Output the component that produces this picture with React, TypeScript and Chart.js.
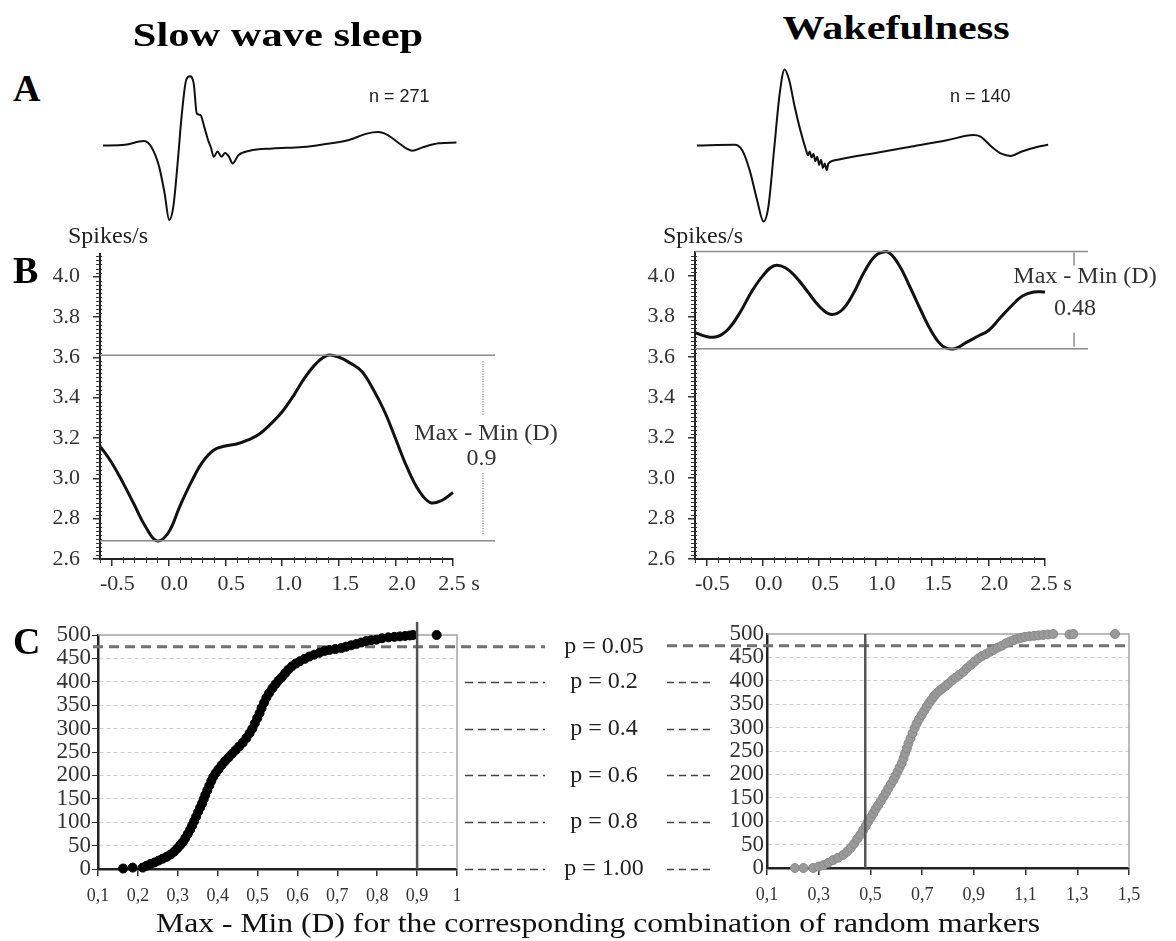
import React, { useEffect, useRef } from 'react';
import { Chart, registerables } from 'chart.js';

Chart.register(...registerables);

const SERIF = "'Liberation Serif', 'Times New Roman', Times, serif";
const SANS = "'Liberation Sans', Arial, Helvetica, sans-serif";

// ---------------- Panel A : averaged spike waveforms (time in ms, normalised amplitude)
const swsWaveTime = [0.000, 0.186, 0.346, 0.410, 0.475, 0.522, 0.561, 0.596, 0.635, 0.666, 0.705, 0.737, 0.769, 0.795, 0.826, 0.858, 0.891, 0.913, 0.939, 0.971, 1.003, 1.035, 1.067, 1.099, 1.147, 1.243, 1.436, 1.692, 1.884, 2.076, 2.236, 2.332, 2.413, 2.492, 2.573, 2.620, 2.717, 2.845, 2.995];
const swsWaveAmp = [0.00, 0.01, 0.06, -0.02, -0.28, -0.64, -1.00, -0.82, -0.19, 0.39, 0.88, 0.93, 0.83, 0.43, 0.41, 0.25, 0.07, -0.02, -0.15, -0.08, -0.15, -0.10, -0.15, -0.24, -0.13, -0.07, -0.04, -0.02, 0.02, 0.07, 0.16, 0.18, 0.14, 0.05, -0.04, -0.07, -0.02, 0.03, 0.04];
const wakeWaveTime = [0.000, 0.319, 0.382, 0.446, 0.509, 0.564, 0.605, 0.653, 0.701, 0.742, 0.781, 0.828, 0.875, 0.924, 0.940, 0.955, 0.971, 0.987, 1.003, 1.019, 1.035, 1.051, 1.067, 1.083, 1.099, 1.114, 1.194, 1.321, 1.513, 1.799, 2.117, 2.340, 2.403, 2.499, 2.579, 2.658, 2.753, 2.881, 2.976];
const wakeWaveAmp = [0.00, 0.01, -0.06, -0.33, -0.73, -1.02, -0.82, -0.06, 0.70, 1.02, 0.88, 0.52, 0.21, -0.06, -0.13, -0.08, -0.16, -0.11, -0.21, -0.15, -0.26, -0.19, -0.30, -0.24, -0.33, -0.24, -0.19, -0.15, -0.10, -0.02, 0.07, 0.14, 0.12, -0.02, -0.11, -0.14, -0.08, -0.02, 0.01];
const swsSpikeCount = 'n = 271';
const wakeSpikeCount = 'n = 140';

// ---------------- Panel B : firing rate (spikes/s) around the markers
const rateTime = [-0.6, -0.5, -0.4, -0.3, -0.2, -0.1, 0.0, 0.1, 0.2, 0.3, 0.4, 0.5, 0.6, 0.7, 0.8, 0.9, 1.0, 1.1, 1.2, 1.3, 1.4, 1.5, 1.6, 1.7, 1.8, 1.9, 2.0, 2.1, 2.2, 2.3, 2.4, 2.5];
const swsRate = [3.16, 3.08, 2.98, 2.87, 2.76, 2.69, 2.73, 2.86, 2.98, 3.08, 3.14, 3.16, 3.17, 3.19, 3.22, 3.27, 3.33, 3.41, 3.50, 3.57, 3.61, 3.60, 3.57, 3.53, 3.44, 3.33, 3.19, 3.05, 2.94, 2.88, 2.89, 2.93];
const wakeRate = [3.72, 3.70, 3.70, 3.74, 3.82, 3.92, 4.00, 4.05, 4.04, 3.99, 3.92, 3.85, 3.81, 3.83, 3.91, 4.02, 4.10, 4.12, 4.06, 3.95, 3.83, 3.72, 3.65, 3.64, 3.67, 3.70, 3.73, 3.79, 3.85, 3.90, 3.92, 3.92];
const swsDText = '0.9';
const wakeDText = '0.48';

// ---------------- Panel C : cumulative ranks of D for random marker combinations
const swsShuffleD = [0.163, 0.187, 0.212, 0.222, 0.232, 0.242, 0.252, 0.262, 0.272, 0.282, 0.291, 0.299, 0.306, 0.313, 0.319, 0.325, 0.331, 0.336, 0.341, 0.346, 0.351, 0.356, 0.361, 0.365, 0.369, 0.374, 0.379, 0.384, 0.389, 0.395, 0.402, 0.410, 0.418, 0.427, 0.436, 0.445, 0.454, 0.463, 0.472, 0.480, 0.487, 0.493, 0.499, 0.505, 0.510, 0.516, 0.522, 0.529, 0.537, 0.545, 0.553, 0.561, 0.569, 0.577, 0.586, 0.596, 0.606, 0.618, 0.630, 0.642, 0.655, 0.668, 0.680, 0.695, 0.710, 0.722, 0.735, 0.748, 0.760, 0.772, 0.785, 0.798, 0.812, 0.828, 0.843, 0.857, 0.870, 0.882, 0.890, 0.949];
const swsShuffleRank = [1, 3, 3, 7, 11, 14, 18, 22, 26, 31, 37, 44, 51, 58, 66, 75, 84, 93, 102, 112, 122, 131, 140, 149, 158, 168, 178, 188, 197, 205, 213, 222, 230, 238, 246, 254, 262, 270, 280, 290, 300, 311, 322, 333, 344, 355, 366, 376, 386, 395, 403, 410, 418, 426, 433, 439, 444, 449, 454, 458, 462, 466, 468, 470, 472, 475, 478, 481, 484, 487, 489, 490, 493, 495, 496, 497, 498, 499, 500, 500];
const wakeShuffleD = [0.208, 0.241, 0.279, 0.300, 0.318, 0.337, 0.356, 0.375, 0.395, 0.410, 0.424, 0.437, 0.449, 0.461, 0.472, 0.482, 0.491, 0.501, 0.511, 0.520, 0.530, 0.540, 0.550, 0.560, 0.569, 0.579, 0.589, 0.597, 0.605, 0.613, 0.621, 0.628, 0.634, 0.641, 0.647, 0.655, 0.663, 0.671, 0.679, 0.688, 0.698, 0.708, 0.718, 0.727, 0.737, 0.746, 0.756, 0.768, 0.779, 0.791, 0.802, 0.816, 0.830, 0.844, 0.859, 0.873, 0.888, 0.903, 0.918, 0.932, 0.947, 0.962, 0.976, 0.992, 1.008, 1.024, 1.040, 1.055, 1.070, 1.084, 1.098, 1.115, 1.133, 1.150, 1.168, 1.187, 1.207, 1.270, 1.285, 1.446];
const wakeShuffleRank = [0, 0, 0, 3, 6, 11, 17, 22, 28, 35, 43, 52, 62, 71, 81, 90, 99, 108, 117, 126, 134, 143, 152, 161, 170, 179, 188, 197, 206, 215, 224, 234, 245, 256, 266, 277, 288, 299, 309, 318, 327, 336, 345, 353, 360, 367, 373, 379, 384, 389, 394, 401, 407, 413, 419, 427, 434, 441, 448, 453, 457, 462, 466, 471, 475, 480, 484, 487, 490, 492, 494, 495, 496, 497, 498, 499, 500, 499, 500, 500];
const swsObservedD = 0.9;
const wakeObservedD = 0.48;
const pRanks = [475, 400, 300, 200, 100, 0];
const pLabels = ['p = 0.05', 'p = 0.2', 'p = 0.4', 'p = 0.6', 'p = 0.8', 'p = 1.00'];

const commaFmt = (v: number) => {
  const r = Math.round(v * 10) / 10;
  return Number.isInteger(r) ? String(r) : r.toFixed(1).replace('.', ',');
};

// ---------------- configs
function waveConfig(t: number[], a: number[]) {
  return {
    type: 'line',
    data: {
      datasets: [{
        data: t.map((x, i) => ({ x, y: a[i] })),
        borderColor: '#111', borderWidth: 2, pointRadius: 0,
        cubicInterpolationMode: 'monotone', clip: false,
      }],
    },
    options: {
      animation: false, responsive: false, devicePixelRatio: 1, events: [],
      layout: { padding: 4 },
      plugins: { legend: { display: false }, tooltip: { enabled: false } },
      scales: {
        x: { type: 'linear', display: false, min: 0, max: 3.0 },
        y: { type: 'linear', display: false, min: -1.201, max: 1.215 },
      },
    },
  };
}

type Seg = [number, number];
type AnnotOpts = {
  markerDx: number; lineExt: number; dash: number[]; markerColor: string; markerWidth: number;
  segs: (yMax: number, yMin: number) => Seg[];
  texts: { s: string; dx: number; y: (yMax: number, yMin: number) => number }[];
};

function rateAnnot(o: AnnotOpts) {
  return {
    id: 'rateAnnot',
    afterDatasetsDraw(chart: any) {
      const { ctx, chartArea: ca, scales } = chart;
      const x = scales.x, y = scales.y;
      const vals = chart.data.datasets[0].data.map((p: any) => p.y);
      const yMax = y.getPixelForValue(Math.max(...vals));
      const yMin = y.getPixelForValue(Math.min(...vals));
      ctx.save();
      // minor ticks
      ctx.strokeStyle = '#333';
      ctx.lineWidth = 1;
      ctx.beginPath();
      const ny = Math.round((4.1 - y.min) / 0.02);
      for (let i = 0; i <= ny; i++) {
        if (i % 10 === 0) continue;
        const py = Math.round(y.getPixelForValue(y.min + i * 0.02)) + 0.5;
        ctx.moveTo(ca.left - 4, py);
        ctx.lineTo(ca.left + 2, py);
      }
      const nx = Math.round((x.max - x.min) / 0.1);
      for (let i = 0; i <= nx; i++) {
        if (i % 5 === 1) continue;
        const px = Math.round(x.getPixelForValue(x.min + i * 0.1)) + 0.5;
        ctx.moveTo(px, ca.bottom - 2);
        ctx.lineTo(px, ca.bottom + 4);
      }
      ctx.stroke();
      // max / min lines
      ctx.strokeStyle = '#8a8a8a';
      ctx.lineWidth = 1.5;
      ctx.beginPath();
      ctx.moveTo(ca.left, yMax); ctx.lineTo(ca.right + o.lineExt, yMax);
      ctx.moveTo(ca.left, yMin); ctx.lineTo(ca.right + o.lineExt, yMin);
      ctx.stroke();
      // D marker
      const mx = ca.right + o.markerDx;
      ctx.strokeStyle = o.markerColor;
      ctx.lineWidth = o.markerWidth;
      ctx.setLineDash(o.dash);
      ctx.beginPath();
      o.segs(yMax, yMin).forEach(([a, b]) => { ctx.moveTo(mx, a); ctx.lineTo(mx, b); });
      ctx.stroke();
      ctx.setLineDash([]);
      // labels
      ctx.fillStyle = '#333';
      ctx.font = `24px ${SERIF}`;
      ctx.textAlign = 'center';
      ctx.textBaseline = 'middle';
      o.texts.forEach((t) => ctx.fillText(t.s, ca.right + t.dx, t.y(yMax, yMin)));
      ctx.restore();
    },
  };
}

function rateConfig(rate: number[], yMax: number, padRight: number, annot: AnnotOpts) {
  return {
    type: 'line',
    data: {
      datasets: [{
        data: rateTime.map((x, i) => ({ x, y: rate[i] })),
        borderColor: '#111', borderWidth: 3, pointRadius: 0,
        tension: 0.4, clip: false,
      }],
    },
    options: {
      animation: false, responsive: false, devicePixelRatio: 1, events: [],
      layout: { padding: { left: 0, top: 10, right: padRight, bottom: 0 } },
      plugins: { legend: { display: false }, tooltip: { enabled: false } },
      scales: {
        x: {
          type: 'linear', min: -0.6, max: 2.5,
          ticks: {
            stepSize: 0.5, includeBounds: false, autoSkip: false, maxRotation: 0, minRotation: 0,
            padding: 5, labelOffset: 6, color: '#333', font: { family: SERIF, size: 22 },
            callback: (v: number) => (Math.abs(v - 2.5) < 1e-9 ? '2.5 s' : Number(v).toFixed(1)),
          },
          grid: { drawOnChartArea: false, tickLength: 7, color: '#333', lineWidth: 1.5 },
          border: { color: '#222', width: 2 },
          afterFit: (s: any) => { s.height = 51; s.paddingLeft = 0; s.paddingRight = 0; },
        },
        y: {
          type: 'linear', min: 2.6, max: yMax,
          ticks: {
            stepSize: 0.2, includeBounds: false, autoSkip: false, padding: 13,
            color: '#333', font: { family: SERIF, size: 22 },
            callback: (v: number) => Number(v).toFixed(1),
          },
          grid: { drawOnChartArea: false, tickLength: 7, color: '#333', lineWidth: 1.5 },
          border: { color: '#222', width: 2 },
          afterFit: (s: any) => { s.width = 70; s.paddingTop = 0; s.paddingBottom = 0; },
        },
      },
    },
    plugins: [rateAnnot(annot)],
  };
}

type CdfOpts = {
  xMax: number; xStep: number; color: string; border: string; padTop: number; padRight: number;
  yWidth: number; xHeight: number; yPad: number; yTicks: boolean;
  observed: number; obsOver: number; lineFrom: number; lineTo: number; pGuides: boolean;
};

function cdfAnnot(o: CdfOpts) {
  return {
    id: 'cdfAnnot',
    beforeDatasetsDraw(chart: any) {
      const { ctx, chartArea: ca, scales } = chart;
      const y = scales.y;
      ctx.save();
      ctx.strokeStyle = '#a4a4a4';
      ctx.lineWidth = 1.5;
      ctx.beginPath();
      ctx.moveTo(ca.left, ca.top); ctx.lineTo(ca.right, ca.top); ctx.lineTo(ca.right, ca.bottom);
      ctx.stroke();
      const y05 = y.getPixelForValue(pRanks[0]);
      ctx.strokeStyle = '#707070';
      ctx.lineWidth = 3;
      ctx.setLineDash([10, 6]);
      ctx.beginPath();
      ctx.moveTo(ca.left + o.lineFrom, y05); ctx.lineTo(ca.right + o.lineTo, y05);
      ctx.stroke();
      if (o.pGuides) {
        ctx.strokeStyle = '#444';
        ctx.lineWidth = 1.5;
        for (let i = 1; i < pRanks.length; i++) {
          const py = Math.round(y.getPixelForValue(pRanks[i])) + 0.5;
          ctx.setLineDash([8, 5]);
          ctx.beginPath(); ctx.moveTo(ca.right + 8, py); ctx.lineTo(ca.right + 88, py); ctx.stroke();
          ctx.setLineDash([7, 5]);
          ctx.beginPath(); ctx.moveTo(ca.right + 210, py); ctx.lineTo(ca.right + 256, py); ctx.stroke();
        }
        ctx.setLineDash([]);
        ctx.fillStyle = '#222';
        ctx.font = `24px ${SERIF}`;
        ctx.textAlign = 'center';
        ctx.textBaseline = 'middle';
        pLabels.forEach((s, i) => ctx.fillText(s, ca.right + 147, y.getPixelForValue(pRanks[i])));
      }
      ctx.restore();
    },
    afterDatasetsDraw(chart: any) {
      const { ctx, chartArea: ca, scales } = chart;
      const px = scales.x.getPixelForValue(o.observed);
      ctx.save();
      ctx.strokeStyle = '#555';
      ctx.lineWidth = 2.5;
      ctx.beginPath();
      ctx.moveTo(px, ca.top - o.obsOver); ctx.lineTo(px, ca.bottom);
      ctx.stroke();
      ctx.restore();
    },
  };
}

function cdfConfig(d: number[], rank: number[], o: CdfOpts) {
  return {
    type: 'scatter',
    data: {
      datasets: [{
        data: d.map((x, i) => ({ x, y: rank[i] })),
        pointRadius: 4.5, pointBackgroundColor: o.color, pointBorderColor: o.border, pointBorderWidth: 1,
        clip: false,
      }],
    },
    options: {
      animation: false, responsive: false, devicePixelRatio: 1, events: [],
      layout: { padding: { left: 0, top: o.padTop, right: o.padRight, bottom: 0 } },
      plugins: { legend: { display: false }, tooltip: { enabled: false } },
      scales: {
        x: {
          type: 'linear', min: 0.1, max: o.xMax,
          ticks: {
            stepSize: o.xStep, autoSkip: false, maxRotation: 0, minRotation: 0, padding: 9,
            color: '#333', font: { family: SERIF, size: 18 }, callback: (v: number) => commaFmt(v),
          },
          grid: { drawOnChartArea: false, tickLength: 7, color: '#333', lineWidth: 1.5 },
          border: { color: '#222', width: 2.5 },
          afterFit: (s: any) => { s.height = o.xHeight; s.paddingLeft = 0; s.paddingRight = 0; },
        },
        y: {
          type: 'linear', min: 0, max: 500,
          ticks: { stepSize: 50, autoSkip: false, padding: o.yPad, color: '#333', font: { family: SERIF, size: 23 } },
          grid: {
            drawTicks: o.yTicks, tickLength: 6, tickColor: '#333', lineWidth: 1,
            color: (c: any) => (c.tick && (c.tick.value === 0 || c.tick.value === 500) ? 'rgba(0,0,0,0)' : '#cdcdcd'),
          },
          border: { color: '#222', width: 2.5, dash: [4, 3] },
          afterFit: (s: any) => { s.width = o.yWidth; s.paddingTop = 0; s.paddingBottom = 0; },
        },
      },
    },
    plugins: [cdfAnnot(o)],
  };
}

// ---------------- canvas helper
function ChartCanvas(props: { left: number; top: number; width: number; height: number; make: () => any }) {
  const ref = useRef<HTMLCanvasElement | null>(null);
  useEffect(() => {
    const chart = new Chart(ref.current as HTMLCanvasElement, props.make());
    return () => chart.destroy();
  }, []);
  const { left, top, width, height } = props;
  return (
    <canvas
      ref={ref}
      width={width}
      height={height}
      style={{ position: 'absolute', left, top, width, height }}
    />
  );
}

const abs = (left: number, top: number, size: number, extra: any = {}) => ({
  position: 'absolute' as const, left, top, fontSize: size, lineHeight: `${size}px`,
  fontFamily: SERIF, color: '#111', whiteSpace: 'nowrap' as const, ...extra,
});

export default function App() {
  const swsAnnot: AnnotOpts = {
    markerDx: 30, lineExt: 42, dash: [1, 1.5], markerColor: '#a8a8a8', markerWidth: 2,
    segs: (yMax, yMin) => {
      const mid = (yMax + yMin) / 2;
      return [[yMax + 6, mid - 33], [mid + 25, yMin - 5]];
    },
    texts: [
      { s: 'Max - Min (D)', dx: 33, y: (yMax, yMin) => (yMax + yMin) / 2 - 14.5 },
      { s: swsDText, dx: 28.5, y: (yMax, yMin) => (yMax + yMin) / 2 + 10.5 },
    ],
  };
  const wakeAnnot: AnnotOpts = {
    markerDx: 29, lineExt: 43, dash: [], markerColor: '#555', markerWidth: 1,
    segs: (yMax, yMin) => [[yMax + 1, yMax + 14], [yMin - 16, yMin - 2]],
    texts: [
      { s: 'Max - Min (D)', dx: 40, y: (yMax) => yMax + 25 },
      { s: wakeDText, dx: 30, y: (yMax) => yMax + 57 },
    ],
  };
  const swsCdf: CdfOpts = {
    xMax: 1.0, xStep: 0.1, color: '#000', border: '#000', padTop: 25, padRight: 263,
    yWidth: 78, xHeight: 41, yPad: 1, yTicks: true,
    observed: swsObservedD, obsOver: 13, lineFrom: -5, lineTo: 88, pGuides: true,
  };
  const wakeCdf: CdfOpts = {
    xMax: 1.5, xStep: 0.2, color: '#9a9a9a', border: '#888', padTop: 24, padRight: 47,
    yWidth: 117, xHeight: 42, yPad: 3, yTicks: false,
    observed: wakeObservedD, obsOver: 0, lineFrom: -100, lineTo: 0, pGuides: false,
  };

  return (
    <div style={{ position: 'absolute', left: 0, top: 0, width: 1176, height: 941, background: '#fff', overflow: 'hidden' }}>
      <ChartCanvas left={99} top={51} width={362} height={188} make={() => waveConfig(swsWaveTime, swsWaveAmp)} />
      <ChartCanvas left={693} top={51} width={362} height={188} make={() => waveConfig(wakeWaveTime, wakeWaveAmp)} />
      <ChartCanvas left={30} top={244} width={560} height={366} make={() => rateConfig(swsRate, 4.112, 137, swsAnnot)} />
      <ChartCanvas left={625} top={242} width={551} height={368} make={() => rateConfig(wakeRate, 4.118, 131, wakeAnnot)} />
      <ChartCanvas left={20} top={610} width={700} height={300} make={() => cdfConfig(swsShuffleD, swsShuffleRank, swsCdf)} />
      <ChartCanvas left={650} top={610} width={526} height={300} make={() => cdfConfig(wakeShuffleD, wakeShuffleRank, wakeCdf)} />

      <div style={abs(277.5, 18, 34, { fontWeight: 'bold', color: '#000', transform: 'translateX(-50%) scaleX(1.25)' })}>Slow wave sleep</div>
      <div style={abs(896, 11, 34, { fontWeight: 'bold', color: '#000', transform: 'translateX(-50%) scaleX(1.24)' })}>Wakefulness</div>

      <div style={abs(13, 69, 38, { fontWeight: 'bold', color: '#000' })}>A</div>
      <div style={abs(13, 251, 38, { fontWeight: 'bold', color: '#000' })}>B</div>
      <div style={abs(13, 622, 38, { fontWeight: 'bold', color: '#000' })}>C</div>

      <div style={abs(369, 87, 18, { fontFamily: SANS, color: '#222' })}>{swsSpikeCount}</div>
      <div style={abs(950, 87, 18, { fontFamily: SANS, color: '#222' })}>{wakeSpikeCount}</div>

      <div style={abs(68, 223, 24, { color: '#222' })}>Spikes/s</div>
      <div style={abs(663, 223, 24, { color: '#222' })}>Spikes/s</div>

      <div style={abs(597.5, 909, 28, { color: '#111', transform: 'translateX(-50%) scaleX(1.13)' })}>
        Max - Min (D) for the corresponding combination of random markers
      </div>
    </div>
  );
}
